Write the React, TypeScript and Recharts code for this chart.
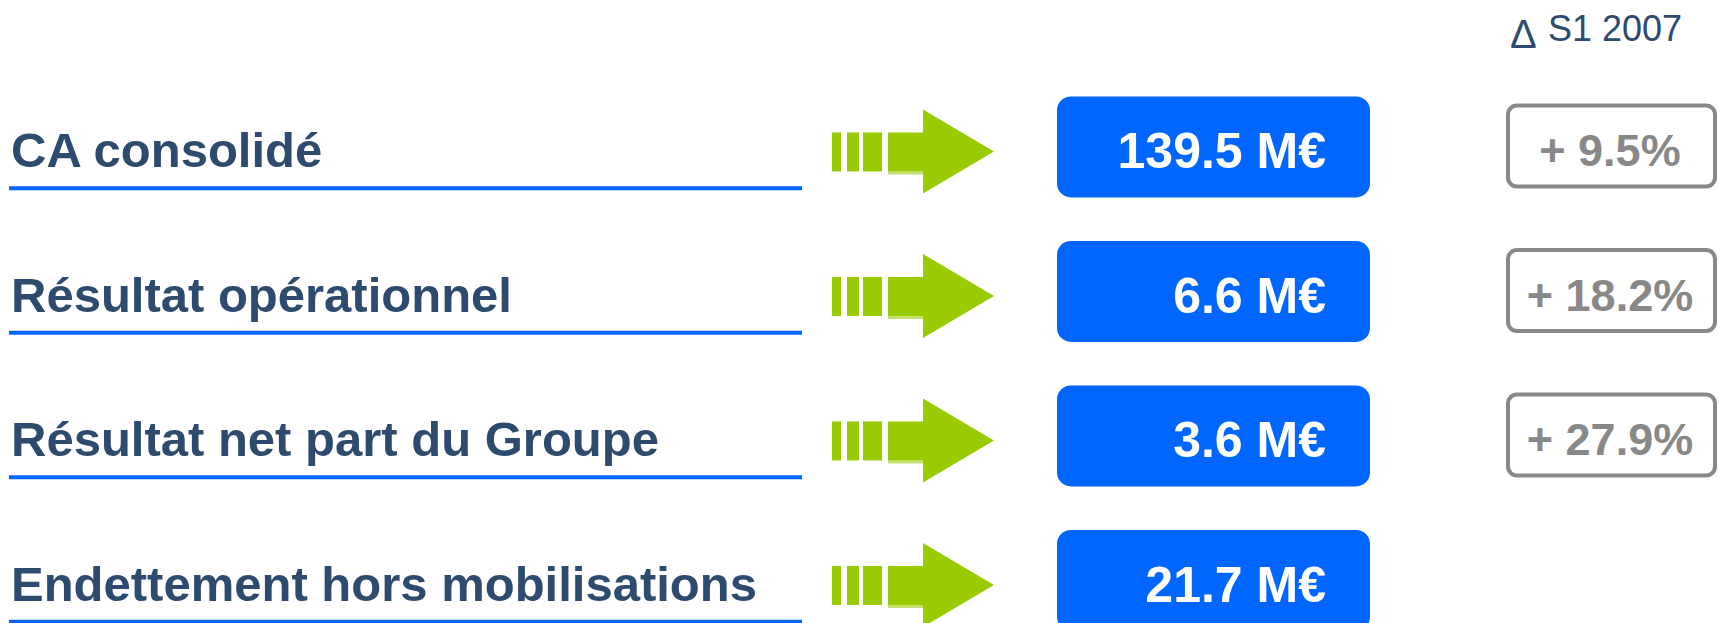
import { ComposedChart, Bar, XAxis, YAxis, Customized } from "recharts";

const labels = [
  "CA consolidé",
  "Résultat opérationnel",
  "Résultat net part du Groupe",
  "Endettement hors mobilisations",
];
const values = [139.5, 6.6, 3.6, 21.7];
const deltas: (number | null)[] = [9.5, 18.2, 27.9, null];
const deltaTitle = "S1 2007";

const data = labels.map((label, i) => ({ label, value: values[i], delta: deltas[i] }));

const FONT = "'Liberation Sans', Arial, Helvetica, sans-serif";
const NAVY = "#2D4B6E";
const BLUE = "#0066FF";
const GREEN = "#99CC00";
const GREY = "#888888";

// label + blue underline, one per category
// eslint-disable-next-line @typescript-eslint/no-explicit-any
function LabelTick({ y, payload }: any) {
  return (
    <g>
      <text x={11} y={y + 17} fill={NAVY} fontSize={49} fontWeight={700} fontFamily={FONT}>
        {payload.value}
      </text>
      <rect x={9} y={y + 36} width={793} height={4} fill={BLUE} />
    </g>
  );
}

function Arrow({ c }: { c: number }) {
  const bt = c - 18;
  const bh = 39;
  return (
    <g fill={GREEN}>
      <rect x={832} y={bt} width={9} height={bh} />
      <rect x={847} y={bt} width={12} height={bh} />
      <rect x={863} y={bt} width={19} height={bh} />
      <rect x={888} y={bt + bh} width={36} height={3} fill="#C6E070" />
      <polygon points={`888,${bt} 923,${bt} 923,${c - 41} 994,${c + 1} 923,${c + 43} 923,${bt + bh} 888,${bt + bh}`} />
    </g>
  );
}

// eslint-disable-next-line @typescript-eslint/no-explicit-any
function RowShape(props: any) {
  const { y, height, payload } = props;
  const c = y + height / 2;
  return (
    <g>
      <Arrow c={c} />
      <rect x={1057} y={c - 54} width={313} height={101} rx={14} fill={BLUE} />
      <text
        x={1326}
        y={c + 18}
        textAnchor="end"
        fill="#fff"
        fontSize={50}
        fontWeight={700}
        fontFamily={FONT}
      >
        {`${payload.value.toFixed(1)} M€`}
      </text>
      {payload.delta != null && (
        <g>
          <rect x={1508} y={c - 45} width={207} height={81} rx={9} fill="#fff" stroke={GREY} strokeWidth={4} />
          <text
            x={1610}
            y={c + 16}
            textAnchor="middle"
            fill={GREY}
            fontSize={45}
            fontWeight={700}
            fontFamily={FONT}
          >
            {`+ ${payload.delta.toFixed(1)}%`}
          </text>
        </g>
      )}
    </g>
  );
}

function Header() {
  return (
    <g fill={NAVY} fontFamily={FONT}>
      <text x={1510} y={48} fontSize={40}>
        Δ
      </text>
      <text x={1548} y={41} fontSize={36}>
        {deltaTitle}
      </text>
    </g>
  );
}

export default function App() {
  return (
    <div
      style={{
        position: "fixed",
        top: 0,
        left: 0,
        width: 1719,
        height: 623,
        overflow: "hidden",
        background: "#fff",
      }}
    >
      <ComposedChart
        width={1719}
        height={656}
        data={data}
        layout="vertical"
        margin={{ top: 78, right: 0, left: 0, bottom: 0 }}
      >
        <XAxis type="number" hide domain={[0, "dataMax"]} />
        <YAxis
          type="category"
          dataKey="label"
          width={1}
          axisLine={false}
          tickLine={false}
          interval={0}
          tick={<LabelTick />}
        />
        <Bar dataKey="value" shape={<RowShape />} isAnimationActive={false} />
        <Customized component={<Header />} />
      </ComposedChart>
    </div>
  );
}
